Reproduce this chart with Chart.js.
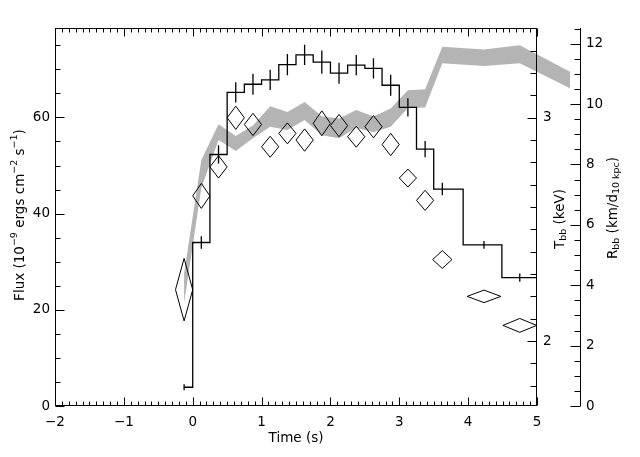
<!DOCTYPE html>
<html><head><meta charset="utf-8">
<script src="https://cdn.jsdelivr.net/npm/chart.js@4.4.0/dist/chart.umd.min.js"></script>
<style>html,body{margin:0;padding:0;background:#fff}</style>
</head><body>
<canvas id="c" width="640" height="457"></canvas>
<script>
// ---- tick labels ----
const xTicks = [-2, -1, 0, 1, 2, 3, 4, 5];
const fluxTicks = [0, 20, 40, 60];
const tempTicks = [2, 3];
const radTicks = [0, 2, 4, 6, 8, 10, 12];

// ---- flux histogram (bin centres, 1e-9 erg/cm2/s) ----
const fluxTime = [-0.125, 0.125, 0.375, 0.625, 0.875, 1.125, 1.375, 1.625, 1.875, 2.125, 2.375, 2.625, 2.875, 3.125, 3.375, 3.625, 4.23, 4.75, 5.48];
const flux     = [3.9, 34.0, 52.3, 65.2, 66.9, 67.8, 71.0, 73.0, 71.5, 69.2, 70.9, 70.2, 66.7, 62.1, 53.4, 45.1, 33.5, 26.7, 21.0];
const fluxErr  = [0.6, 1.3, 1.9, 2.1, 2.2, 2.1, 2.2, 2.1, 2.4, 2.2, 2.1, 2.1, 2.2, 1.9, 1.7, 1.3, 0.8, 0.85, 0.8];

// ---- blackbody temperature (keV), diamonds ----
const tempTime      = [-0.125, 0.125, 0.375, 0.625, 0.875, 1.125, 1.375, 1.625, 1.875, 2.125, 2.375, 2.625, 2.875, 3.125, 3.375, 3.625, 4.23, 4.75];
const tempHalfWidth = [0.125, 0.125, 0.125, 0.125, 0.125, 0.125, 0.125, 0.125, 0.125, 0.125, 0.125, 0.125, 0.125, 0.125, 0.125, 0.14, 0.245, 0.246];
const temp          = [2.23, 2.65, 2.78, 3.00, 2.97, 2.87, 2.93, 2.90, 2.975, 2.965, 2.915, 2.96, 2.88, 2.73, 2.63, 2.365, 2.20, 2.07];
const tempErr       = [0.14, 0.056, 0.05, 0.052, 0.05, 0.047, 0.047, 0.05, 0.056, 0.05, 0.047, 0.05, 0.05, 0.04, 0.045, 0.04, 0.028, 0.031];

// ---- blackbody radius (km / d_10kpc), grey band ----
const radTime = [-0.125, 0.125, 0.375, 0.625, 0.875, 1.125, 1.375, 1.625, 1.875, 2.125, 2.375, 2.625, 2.875, 3.125, 3.375, 3.625, 4.23, 4.75, 5.48];
const radLow  = [3.41, 7.22, 8.81, 8.45, 8.87, 9.25, 9.14, 9.47, 8.97, 8.87, 9.22, 9.07, 9.25, 9.87, 9.89, 11.35, 11.26, 11.35, 10.52];
const radHigh = [4.40, 8.15, 9.33, 8.94, 9.29, 9.93, 9.74, 10.07, 9.60, 9.52, 9.80, 9.59, 9.85, 10.46, 10.49, 11.90, 11.81, 11.95, 11.07];

// ---- derived datasets ----
const bandHighPts = radTime.map((t, i) => ({x: t, y: radHigh[i]}));
const bandLowPts  = radTime.map((t, i) => ({x: t, y: radLow[i]}));
const fluxPts = fluxTime.map((t, i) => ({x: t, y: flux[i]}));
const errPts = [];
fluxTime.forEach((t, i) => {
  errPts.push({x: t, y: flux[i] - fluxErr[i]}, {x: t, y: flux[i] + fluxErr[i]}, {x: t, y: null});
});
const diamondPts = [];
tempTime.forEach((t, i) => {
  const w = tempHalfWidth[i], v = temp[i], e = tempErr[i];
  diamondPts.push({x: t - w, y: v}, {x: t, y: v + e}, {x: t + w, y: v}, {x: t, y: v - e}, {x: t - w, y: v}, {x: t, y: null});
});

const FONT = 'DejaVu Sans';
const MAIN = 13.5, SMALL = 9.5;

function fixTicks(list) { return s => { s.ticks = list.map(v => ({value: v})); }; }

// band may run past the right plot edge (as in the original)
const bandOverhang = {
  id: 'bandOverhang',
  beforeDatasetsDraw(chart) {
    chart.$savedRight = chart.chartArea.right;
    chart.chartArea.right = chart.scales.yR.left - 2;
  },
  afterDatasetDraw(chart, args) {
    if (args.index === 1) chart.chartArea.right = chart.$savedRight;
  },
  afterDatasetsDraw(chart) { chart.chartArea.right = chart.$savedRight; }
};

function line(ctx, x1, y1, x2, y2) { ctx.beginPath(); ctx.moveTo(x1, y1); ctx.lineTo(x2, y2); ctx.stroke(); }

const frame = {
  id: 'frame',
  afterDraw(chart) {
    const {ctx, chartArea: a, scales} = chart;
    ctx.save();
    ctx.strokeStyle = '#000';
    ctx.lineWidth = 1;
    const L = Math.round(a.left) + 0.5, R = Math.round(a.right) - 0.5, T = Math.round(a.top) + 0.5, B = Math.round(a.bottom) - 0.5;
    ctx.strokeRect(L, T, R - L, B - T);
    // x ticks (bottom and top, inward)
    for (let k = -20; k <= 50; k++) {
      const v = k / 10, major = k % 10 === 0;
      const px = Math.round(scales.x.getPixelForValue(v)) + 0.5;
      const len = major ? 8 : 4;
      line(ctx, px, B, px, B - len);
      line(ctx, px, T, px, T + len);
    }
    // flux ticks (left, inward)
    for (let v = 0; v <= scales.y.max; v += 5) {
      const py = Math.round(scales.y.getPixelForValue(v)) + 0.5;
      const len = v % 20 === 0 ? 9 : 5;
      line(ctx, L, py, L + len, py);
    }
    // temperature ticks (right frame, inward)
    for (let k = 18; k <= 34; k++) {
      const py = Math.round(scales.yT.getPixelForValue(k / 10)) + 0.5;
      const len = (k % 10 === 0) ? 9 : 6;
      line(ctx, R, py, R - len, py);
    }
    // radius axis
    const rx = Math.round(scales.yR.left) + 0.5;
    line(ctx, rx, T - 0.5, rx, B + 0.5);
    for (let k = 0; k <= 25; k++) {
      const v = k / 2;
      const py = Math.round(scales.yR.getPixelForValue(v)) + 0.5;
      const len = (k % 4 === 0) ? 10 : 6;
      line(ctx, rx, py, rx - len, py);
    }
    ctx.restore();

    // axis titles (rich text with super/subscripts)
    const cx = (a.left + a.right) / 2;
    drawRich(ctx, [['Time (s)', 0]], cx, 438, 0);
    drawRich(ctx, [['Flux (10', 0], ['\u22129', 1], [' ergs cm', 0], ['\u22122', 1], [' s', 0], ['\u22121', 1], [')', 0]], 20, 215, -Math.PI / 2);
    drawRich(ctx, [['T', 0], ['bb', -1], [' (keV)', 0]], 560, 219, -Math.PI / 2);
    drawRich(ctx, [['R', 0], ['bb', -1], [' (km/d', 0], ['10 kpc', -1], [')', 0]], 613, 208, -Math.PI / 2);
  }
};

function drawRich(ctx, parts, cx, cy, rot) {
  ctx.save();
  let total = 0;
  const widths = parts.map(([t, s]) => {
    ctx.font = (s === 0 ? MAIN : SMALL) + 'px "' + FONT + '"';
    const w = ctx.measureText(t).width; total += w; return w;
  });
  ctx.translate(cx, cy);
  ctx.rotate(rot);
  ctx.fillStyle = '#000';
  ctx.textBaseline = 'middle';
  ctx.textAlign = 'left';
  let x = -total / 2;
  parts.forEach(([t, s], i) => {
    ctx.font = (s === 0 ? MAIN : SMALL) + 'px "' + FONT + '"';
    const dy = s === 1 ? -5 : (s === -1 ? 4 : 0);
    ctx.fillText(t, x, dy);
    x += widths[i];
  });
  ctx.restore();
}

const tickFont = {family: FONT, size: MAIN};

new Chart(document.getElementById('c'), {
  type: 'line',
  data: {
    datasets: [
      {label: 'R upper', data: bandHighPts, yAxisID: 'yR', borderWidth: 0, pointRadius: 0, fill: false, order: 10, clip: false, borderColor: 'rgba(0,0,0,0)'},
      {label: 'R lower', data: bandLowPts, yAxisID: 'yR', borderWidth: 0, pointRadius: 0, fill: '-1', backgroundColor: '#b4b4b4', order: 10, clip: false, borderColor: 'rgba(0,0,0,0)'},
      {label: 'Flux', data: fluxPts, yAxisID: 'y', stepped: 'middle', borderColor: '#000', borderWidth: 1.3, pointRadius: 0, fill: false, order: 1},
      {label: 'Flux error', data: errPts, yAxisID: 'y', borderColor: '#000', borderWidth: 1.3, pointRadius: 0, fill: false, spanGaps: false, order: 1},
      {label: 'kT', data: diamondPts, yAxisID: 'yT', borderColor: '#000', borderWidth: 1, pointRadius: 0, fill: false, spanGaps: false, order: 1}
    ]
  },
  options: {
    responsive: false,
    animation: false,
    events: [],
    layout: {padding: {top: 28, left: 0, right: 0, bottom: 0}},
    plugins: {legend: {display: false}, tooltip: {enabled: false}},
    elements: {line: {tension: 0}},
    scales: {
      x: {
        type: 'linear', position: 'bottom', min: -2, max: 5,
        afterBuildTicks: fixTicks(xTicks),
        afterFit: s => { s.height = 51; },
        grid: {display: false, drawTicks: false}, border: {display: false},
        ticks: {padding: 8, font: tickFont, color: '#000', maxRotation: 0, autoSkip: false,
                callback: v => (v < 0 ? '\u2212' + Math.abs(v) : String(v))}
      },
      y: {
        type: 'linear', position: 'left', min: 0, max: 78.6,
        afterBuildTicks: fixTicks(fluxTicks),
        afterFit: s => { s.width = 55; },
        grid: {display: false, drawTicks: false}, border: {display: false},
        ticks: {padding: 5, font: tickFont, color: '#000', autoSkip: false}
      },
      yT: {
        type: 'linear', position: 'right', weight: 1, min: 1.709, max: 3.402,
        afterBuildTicks: fixTicks(tempTicks),
        afterFit: s => { s.width = 43; },
        grid: {display: false, drawTicks: false}, border: {display: false},
        ticks: {padding: 6, font: tickFont, color: '#000', autoSkip: false, callback: v => String(v)}
      },
      yR: {
        type: 'linear', position: 'right', weight: 2, min: 0, max: 12.52,
        afterBuildTicks: fixTicks(radTicks),
        afterFit: s => { s.width = 60; },
        grid: {display: false, drawTicks: false}, border: {display: false},
        ticks: {padding: 6, font: tickFont, color: '#000', autoSkip: false}
      }
    }
  },
  plugins: [bandOverhang, frame]
});
</script>
</body></html>
